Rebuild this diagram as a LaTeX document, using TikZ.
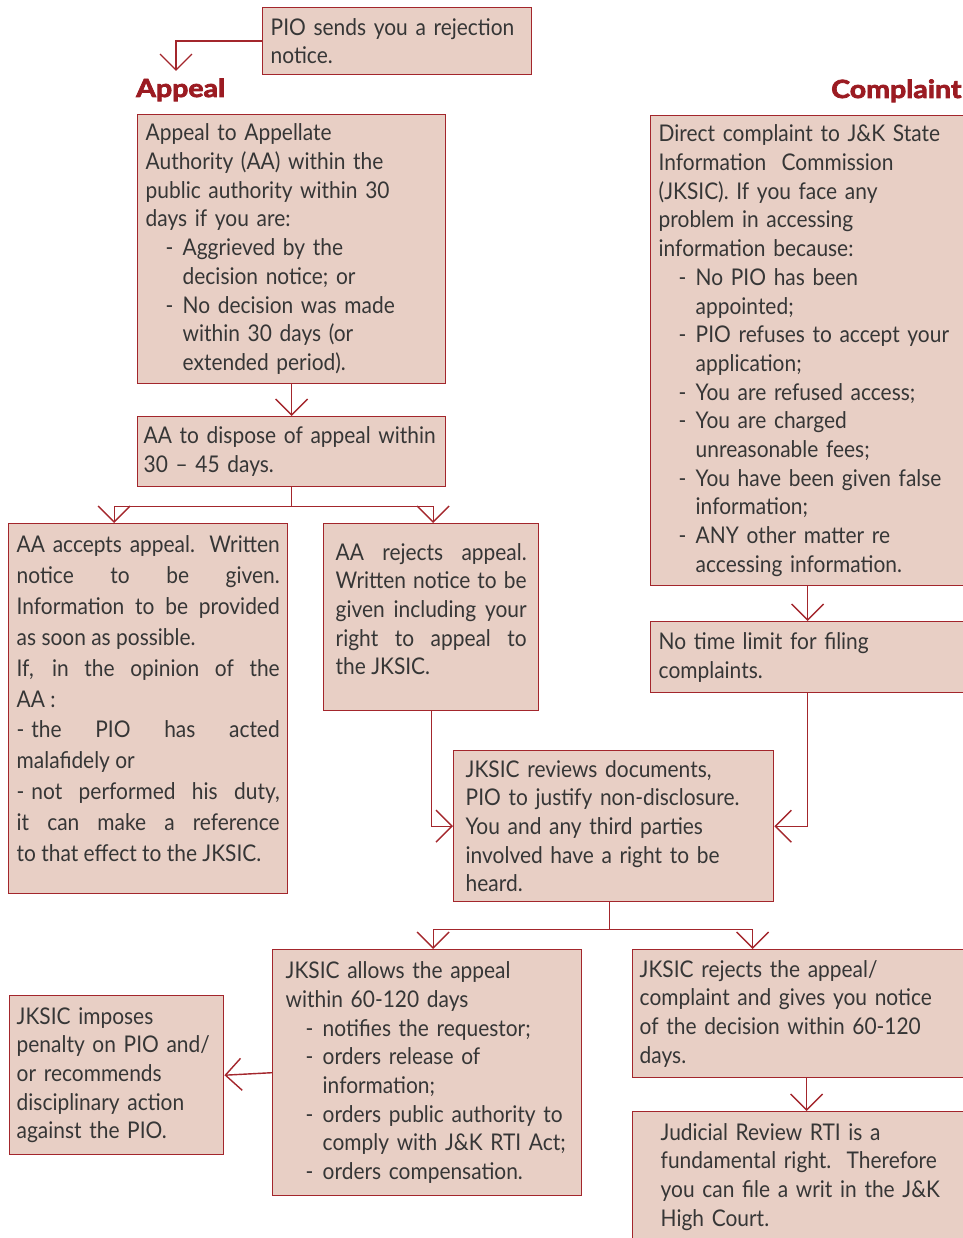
\documentclass[tikz,border=0pt]{standalone}
\usepackage{fontspec}
\setmainfont{Lato}[FakeStretch=0.91]
\newfontfamily\headfam[FakeBold=3,FakeStretch=1.14]{Lato}
\usetikzlibrary{arrows.meta}

\definecolor{boxfill}{HTML}{E8CFC5}
\definecolor{boxline}{HTML}{A3262C}
\definecolor{headred}{HTML}{9B1B22}
\definecolor{inktext}{HTML}{363636}

\newcommand{\bodysize}{\fontsize{23}{28.7}\selectfont}
\newcommand{\tightsize}{\bodysize\spaceskip=0.2em plus 0.1em minus 0.05em\relax}
\newcommand{\itm}{\makebox[37pt][l]{\hspace*{20pt}-}}
\newcommand{\cnt}{\hspace*{37pt}}

\tikzset{
  box/.style={draw=boxline, fill=boxfill, line width=1.4pt, anchor=north west,
    inner xsep=8pt, inner ysep=4pt, align=left, text=inktext, font=\bodysize},
  jbox/.style={box, align=justify},
  arr/.style={draw=boxline, line width=1.4pt,
    -{Straight Barb[length=16pt,width=32pt,line width=1.4pt]}},
  head/.style={text=headred, inner sep=0pt, anchor=base west,
    font=\headfam\bfseries\fontsize{25}{28}\selectfont}
}

\begin{document}
\hyphenpenalty=10000 \exhyphenpenalty=10000 \tolerance=10000
\begin{tikzpicture}[x=1pt,y=-1pt]
  \useasboundingbox (0,0) rectangle (962,1238);

  % headings
  \node[head] (appealhd) at (136,97) {Appeal};
  \node[head] (complainthd) at (831,98) {Complaint};
  \coordinate (appealtip) at (176,71);

  % appeal column
  \node[box, text width=253pt, minimum height=67pt] (pio) at (262,7)
    {PIO sends you a rejection\\notice.};
  \node[box, text width=292pt, minimum height=269pt] (appealbox) at (137,114)
    {Appeal to Appellate\\Authority (AA) within the\\public authority within 30\\
     days if you are:\\\itm Aggrieved by the\\\cnt decision notice; or\\
     \itm No decision was made\\\cnt within 30 days (or\\\cnt extended period).};
  \node[box, text width=296pt, inner xsep=6pt, minimum height=70pt,
    font=\tightsize] (dispose) at (137,416)
    {AA to dispose of appeal within\\30 -- 45 days.};
  \node[jbox, text width=263pt, minimum height=370pt,
    font=\fontsize{23}{30.9}\selectfont] (accepts) at (8,523)
    {AA accepts appeal. Written\linebreak notice to be given.\linebreak
     Information to be provided\linebreak as soon as possible.\\
     If, in the opinion of the\linebreak AA :\\
     -\hspace{7pt}the PIO has acted\linebreak malafidely or\\
     -\hspace{7pt}not performed his duty,\linebreak it can make a reference\linebreak
     to that effect to the JKSIC.\par\vspace*{20pt}};
  \node[jbox, text width=191pt, inner xsep=12pt, minimum height=187pt] (rejects) at (323,523)
    {AA rejects appeal.\linebreak Written notice to be\linebreak
     given including your\linebreak right to appeal to\linebreak the JKSIC.\par\vspace*{16pt}};

  % complaint column
  \node[box, text width=298pt, minimum height=470pt] (complaint) at (650,115)
    {Direct complaint to J\&K State\\Information\ \ Commission\\
     (JKSIC). If you face any\\problem in accessing\\information because:\\
     \itm No PIO has been\\\cnt appointed;\\
     \itm PIO refuses to accept your\\\cnt application;\\
     \itm You are refused access;\\
     \itm You are charged\\\cnt unreasonable fees;\\
     \itm You have been given false\\\cnt information;\\
     \itm ANY other matter re\\\cnt accessing information.};
  \node[box, text width=298pt, minimum height=71pt] (notime) at (650,621)
    {No time limit for filing\\complaints.};

  % decision by the commission
  \node[box, text width=296pt, inner xsep=12pt, minimum height=151pt] (reviews) at (453,750)
    {JKSIC reviews documents,\\PIO to justify non-disclosure.\\
     You and any third parties\\involved have a right to be\\heard.};
  \node[box, text width=283pt, inner xsep=13pt, minimum height=246pt] (allows) at (272,949)
    {JKSIC allows the appeal\\within 60-120 days\\
     \itm notifies the requestor;\\\itm orders release of\\\cnt information;\\
     \itm orders public authority to\\\cnt comply with J\&K RTI Act;\\
     \itm orders compensation.};
  \node[box, text width=200pt, inner xsep=7pt, minimum height=159pt] (imposes) at (9,995)
    {JKSIC imposes\\penalty on PIO and/\\or recommends\\disciplinary action\\
     against the PIO.};
  \node[box, text width=318pt, inner xsep=7pt, minimum height=128pt] (icrejects) at (632,949)
    {JKSIC rejects the appeal/\\complaint and gives you notice\\
     of the decision within 60-120\\days.};
  \node[box, text width=318pt, inner xsep=7pt, minimum height=150pt] (judicial) at (632,1111)
    {\hspace*{21pt}Judicial Review RTI is a\\\hspace*{21pt}fundamental right.\ \ Therefore\\
     \hspace*{21pt}you can file a writ in the J\&K\\\hspace*{21pt}High Court.\par\vspace*{20pt}};

  % connectors
  \draw[arr] (pio.west) -| (appealtip);
  \draw[arr] (appealbox.south) -- (dispose.north);
  \draw[arr] (dispose.south) -- ++(0,19) -| ([xshift=-34pt]accepts.north);
  \draw[arr] (dispose.south) -- ++(0,19) -| ([xshift=2pt]rejects.north);
  \draw[arr] (rejects.south) |- (reviews.west);
  \draw[arr] (complaint.south) -- (notime.north);
  \draw[arr] (notime.south) |- (reviews.east);
  \draw[arr] ([xshift=-4pt]reviews.south) -- ++(0,27) -| ([xshift=6pt]allows.north);
  \draw[arr] ([xshift=-4pt]reviews.south) -- ++(0,27) -| ([xshift=-46pt]icrejects.north);
  \draw[arr] (allows.west) -- (imposes.east);
  \draw[arr] ([xshift=8pt]icrejects.south) -- ([xshift=8pt]judicial.north);
\end{tikzpicture}
\end{document}
